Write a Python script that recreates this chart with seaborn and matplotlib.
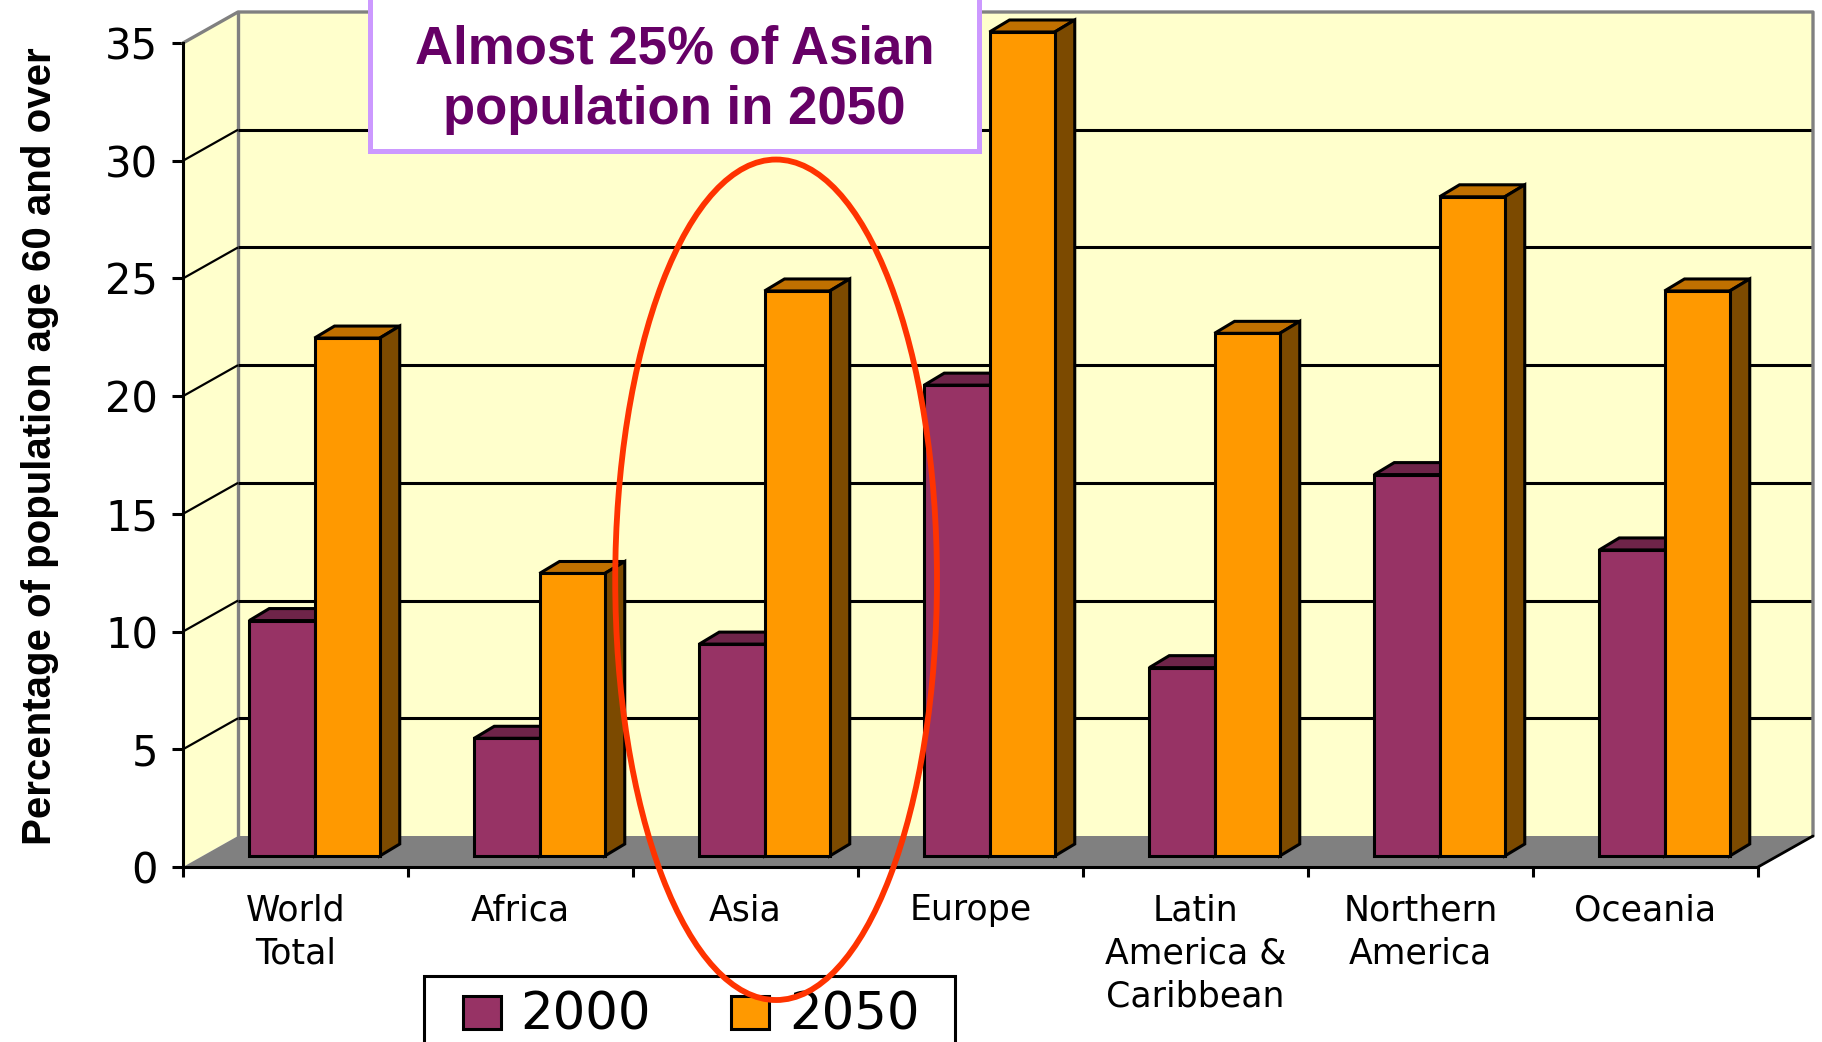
import numpy as np
import pandas as pd
import matplotlib
matplotlib.use("Agg")
import matplotlib.pyplot as plt
import seaborn as sns
from matplotlib.patches import Polygon, Rectangle, Ellipse
from matplotlib.font_manager import FontProperties, findfont

# ---- data -------------------------------------------------------------
regions = ["World\nTotal", "Africa", "Asia", "Europe",
           "Latin\nAmerica &\nCaribbean", "Northern\nAmerica", "Oceania"]
years = ["2000", "2050"]
share_2000 = [10, 5, 9, 20, 8, 16.2, 13]
share_2050 = [22, 12, 24, 35, 22.2, 28, 24]
y_ticks = [0, 5, 10, 15, 20, 25, 30, 35]
y_label = "Percentage of population age 60 and over"
callout_lines = ["Almost 25% of Asian", "population in 2050"]

df = pd.DataFrame({
    "region": regions * 2,
    "year": [years[0]] * len(regions) + [years[1]] * len(regions),
    "share": share_2000 + share_2050,
})

# ---- style ------------------------------------------------------------
front_col = {"2000": "#973365", "2050": "#FF9900"}
top_col = {"2000": "#6E2449", "2050": "#C07000"}
side_col = {"2000": "#5A1C3B", "2050": "#7C4A00"}
wall_col = "#FFFFCC"
floor_col = "#808080"
frame_col = "#808080"

W, H, DPI = 1822, 1042, 100
sns.set_theme(style="white")
plt.rcParams["font.family"] = ["DejaVu Sans"]

fig = plt.figure(figsize=(W / DPI, H / DPI), dpi=DPI)
fig.patch.set_facecolor("white")
ax = fig.add_axes([183 / W, 1 - 867 / H, 1575 / W, 824 / H])
ax.patch.set_alpha(0)


def fx(px):
    return px / W


def fy(py):
    return 1 - py / H


sns.barplot(data=df, x="region", y="share", hue="year", order=regions,
            hue_order=years, palette=front_col, width=0.58, saturation=1,
            edgecolor="black", linewidth=2.2, legend=False, ax=ax)

ax.set_xlim(-0.5, len(regions) - 0.5)
ax.set_ylim(0, 35)
ax.set_xlabel("")
ax.set_ylabel("")

# pixel -> data conversion for the oblique (depth) offsets
p0 = ax.transData.transform((0, 0))
p1 = ax.transData.transform((1, 1))
sx, sy = p1[0] - p0[0], p1[1] - p0[1]
wx, wy = 55 / sx, 31 / sy      # full depth of the chart box
bx, by = 19 / sx, 11 / sy      # plane of the bar fronts
kx, ky = 20 / sx, 12 / sy      # depth of one bar

x0, x1 = -0.5, len(regions) - 0.5
ytop = y_ticks[-1]

# walls and floor
ax.add_patch(Polygon([(x0, 0), (x0, ytop), (x0 + wx, ytop + wy), (x0 + wx, wy)],
                     closed=True, facecolor=wall_col, edgecolor="none",
                     zorder=0.5, clip_on=False))
ax.add_patch(Rectangle((x0 + wx, wy), x1 - x0, ytop, facecolor=wall_col,
                       edgecolor="none", zorder=0.5, clip_on=False))
ax.add_patch(Polygon([(x0, 0), (x1, 0), (x1 + wx, wy), (x0 + wx, wy)],
                     closed=True, facecolor=floor_col, edgecolor="none",
                     zorder=0.6, clip_on=False))

for v in y_ticks[1:-1]:
    ax.plot([x0, x0 + wx], [v, v + wy], color="black", lw=1.6, zorder=0.7,
            clip_on=False, solid_capstyle="butt")
    ax.plot([x0 + wx, x1 + wx], [v + wy, v + wy], color="black", lw=2.2,
            zorder=0.7, clip_on=False, solid_capstyle="butt")

# grey outline of the box
ax.plot([x0, x0 + wx, x1 + wx, x1 + wx], [ytop, ytop + wy, ytop + wy, wy],
        color=frame_col, lw=2.4, zorder=0.8, clip_on=False)
ax.plot([x0 + wx, x0 + wx], [wy, ytop + wy], color=frame_col, lw=2.4,
        zorder=0.65, clip_on=False)
ax.plot([x1, x1 + wx], [0, wy], color="black", lw=2.0, zorder=0.8, clip_on=False)

# bars: shift fronts into their plane and add top / side faces
for i, (year, container) in enumerate(zip(years, ax.containers)):
    zf = 3 + 2 * i
    for bar in container:
        bar.set_x(bar.get_x() + bx)
        bar.set_y(bar.get_y() + by)
        bar.set_zorder(zf)
        bar.set_clip_on(False)
        bar.set_joinstyle("miter")
        x, y = bar.get_x(), bar.get_y()
        w, h = bar.get_width(), bar.get_height()
        top = [(x, y + h), (x + w, y + h), (x + w + kx, y + h + ky), (x + kx, y + h + ky)]
        side = [(x + w, y), (x + w + kx, y + ky), (x + w + kx, y + h + ky), (x + w, y + h)]
        for pts, col in ((top, top_col[year]), (side, side_col[year])):
            ax.add_patch(Polygon(pts, closed=True, facecolor=col, edgecolor="black",
                                 lw=2.2, joinstyle="miter", zorder=zf - 0.5,
                                 clip_on=False))

# axes, ticks, labels
for name in ("top", "right"):
    ax.spines[name].set_visible(False)
for name in ("left", "bottom"):
    ax.spines[name].set_color("black")
    ax.spines[name].set_linewidth(2.2)
    ax.spines[name].set_zorder(2.5)

ax.set_yticks(y_ticks, labels=[str(t) for t in y_ticks])
ax.tick_params(axis="y", left=True, direction="out", length=8, width=2.2,
               color="black", pad=10, labelsize=30, labelcolor="black")

ax.set_xticks(np.arange(x0, x1 + 0.5, 1.0), labels=[""] * (len(regions) + 1))
ax.set_xticks(np.arange(len(regions)), labels=regions, minor=True)
ax.tick_params(axis="x", which="major", bottom=True, direction="out",
               length=7, width=2.2, color="black")
ax.tick_params(axis="x", which="minor", bottom=True, length=0, pad=19,
               labelsize=25, labelcolor="black")
for lab in ax.get_xticklabels(minor=True):
    lab.set_linespacing(1.33)
    lab.set_multialignment("center")

# y-axis title in a condensed bold face
try:
    findfont(FontProperties(family="Liberation Sans Narrow", weight="bold"),
             fallback_to_default=False)
    ylab_family, ylab_size = ["Liberation Sans Narrow", "DejaVu Sans"], 35
except Exception:
    ylab_family, ylab_size = ["Liberation Sans", "DejaVu Sans"], 29
fig.text(fx(40), fy(446), y_label, rotation=90, ha="center", va="center",
         fontsize=ylab_size, fontweight="bold", family=ylab_family, color="black")

# legend box (its lower edge runs off the figure)
fig.add_artist(Rectangle((fx(424), fy(1080)), (955 - 424) / W, (1080 - 976) / H,
                         transform=fig.transFigure, facecolor="white",
                         edgecolor="black", lw=2.2, zorder=6))
for year, kx_px, tx_px in zip(years, (463, 731), (520, 789)):
    fig.add_artist(Rectangle((fx(kx_px), fy(1029)), 38 / W, 33 / H,
                             transform=fig.transFigure, facecolor=front_col[year],
                             edgecolor="black", lw=2.2, zorder=6.5))
    fig.text(fx(tx_px), fy(1029), year, ha="left", va="baseline",
             fontsize=37, color="black", zorder=6.5)

# call-out box
fig.add_artist(Rectangle((fx(370), fy(151)), (979 - 370) / W, 170 / H,
                         transform=fig.transFigure, facecolor="white",
                         edgecolor="#CC99FF", lw=3.6, zorder=7))
for line, base in zip(callout_lines, (63, 124)):
    fig.text(fx(674.5), fy(base), line, ha="center", va="baseline",
             fontsize=38, fontweight="bold", color="#660066",
             family=["Liberation Sans", "DejaVu Sans"], zorder=8)

# highlight ring around the Asia group
fig.add_artist(Ellipse((2.136, 12.2), 1.43, 35.7, transform=ax.transData,
                       facecolor="none", edgecolor="#FF3300", lw=4.2, zorder=9))

fig.savefig("out.png", dpi=DPI, facecolor="white")
